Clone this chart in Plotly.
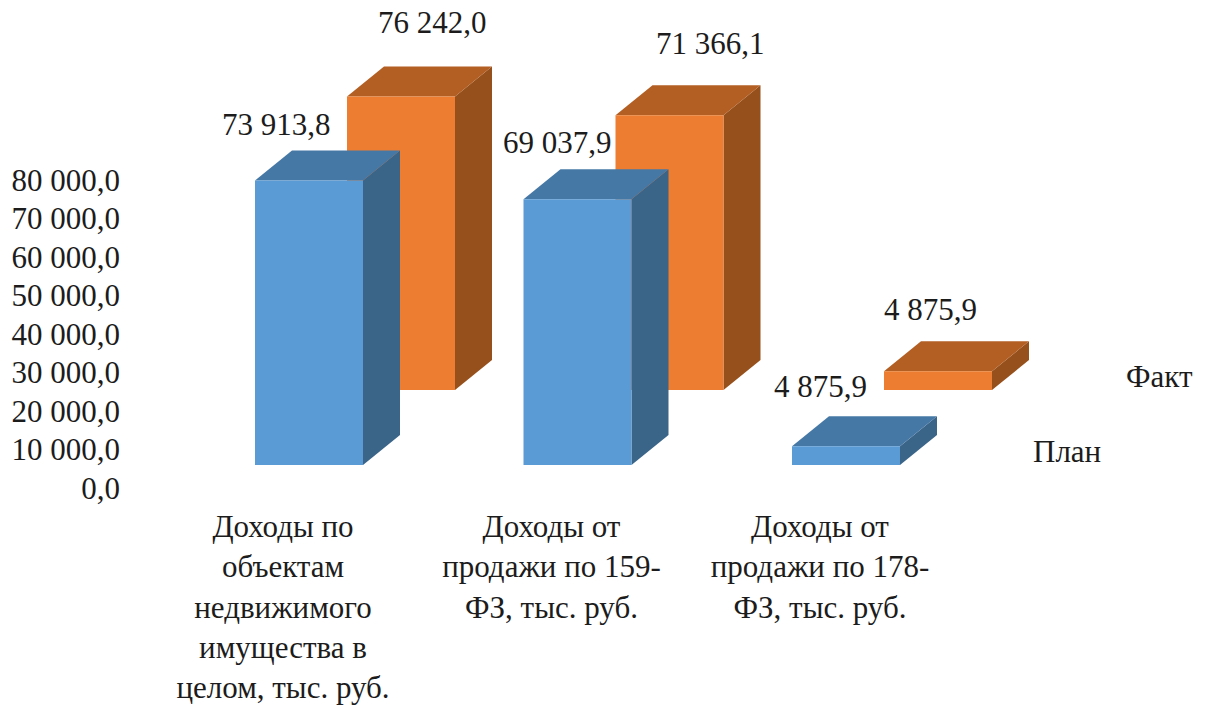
import plotly.graph_objects as go

# Values
categories = [
    'Доходы по<br>объектам<br>недвижимого<br>имущества в<br>целом, тыс. руб.',
    'Доходы от<br>продажи по 159-<br>ФЗ, тыс. руб.',
    'Доходы от<br>продажи по 178-<br>ФЗ, тыс. руб.',
]
plan = [73913.8, 69037.9, 4875.9]
fact = [76242.0, 71366.1, 4875.9]
y_ticks = [0, 10000, 20000, 30000, 40000, 50000, 60000, 70000, 80000]

def fmt(v):
    return f'{v:,.1f}'.replace(',', ' ').replace('.', ',')

# Plot geometry
FONT = dict(family='Liberation Serif', size=31, color='#1c1c1c')
PX_X = 268.5      # pixels per category
PX_Y = 0.00385    # pixels per value unit
ux = lambda px: px / PX_X
uy = lambda px: px / PX_Y

BAR_W = ux(108)
DEPTH_X = ux(37)
DEPTH_Y = uy(30)

# Oblique 3D: each series sits on its own row of the floor
series = [
    dict(name='Факт', values=fact, dx=ux(64), base=uy(98),
         front='#ED7D31', top='#B35F23', side='#96501C',
         label_shift=[(31, 44), (41, 42), (-8, 32)], name_x=ux(339)),
    dict(name='План', values=plan, dx=ux(-28), base=uy(23),
         front='#5B9BD5', top='#4678A6', side='#3A6488',
         label_shift=[(-33, 26), (-20, 27), (-26, 30)], name_x=ux(247)),
]

def face(xs, ys, color, name):
    return go.Scatter(x=xs, y=ys, mode='lines', fill='toself', fillcolor=color,
                      line=dict(width=0, color=color), hoverinfo='skip',
                      showlegend=False, name=name)

fig = go.Figure()
annotations = []
for s in series:
    for i, v in enumerate(s['values']):
        x0 = i + s['dx']
        x1 = x0 + BAR_W
        y0 = s['base']
        y1 = y0 + v
        fig.add_trace(face([x1, x1 + DEPTH_X, x1 + DEPTH_X, x1, x1],
                           [y0, y0 + DEPTH_Y, y1 + DEPTH_Y, y1, y0], s['side'], s['name']))
        fig.add_trace(face([x0, x1, x1 + DEPTH_X, x0 + DEPTH_X, x0],
                           [y1, y1, y1 + DEPTH_Y, y1 + DEPTH_Y, y1], s['top'], s['name']))
        fig.add_trace(face([x0, x1, x1, x0, x0], [y0, y0, y1, y1, y0], s['front'], s['name']))
        sx, sy = s['label_shift'][i]
        annotations.append(dict(x=(x0 + x1) / 2, y=y1 + DEPTH_Y, text=fmt(v), showarrow=False,
                                xshift=sx, yshift=sy, font=FONT))
    annotations.append(dict(x=2 + s['name_x'], y=s['base'] + uy(14), text=s['name'],
                            showarrow=False, font=FONT))

fig.update_layout(
    width=1209, height=706,
    margin=dict(l=121, r=0, t=0, b=201),
    plot_bgcolor='white', paper_bgcolor='white',
    font=FONT, showlegend=False, annotations=annotations,
    xaxis=dict(range=[ux(121 - 283), ux(1209 - 283)], tickvals=[0, 1, 2], ticktext=categories,
               showgrid=False, zeroline=False, showline=False, ticks='', tickangle=0,
               tickfont=FONT, fixedrange=True, automargin=False),
    yaxis=dict(range=[uy(488 - 505), uy(488)], tickvals=y_ticks, ticktext=[fmt(t) for t in y_ticks],
               showgrid=False, zeroline=False, showline=False, ticks='',
               tickfont=FONT, fixedrange=True, automargin=False),
)

# Drop the page's default body margin so the figure fills the window
fig.write_html('out.html', config=dict(displayModeBar=False),
               post_script="document.body.style.margin = '0';")
